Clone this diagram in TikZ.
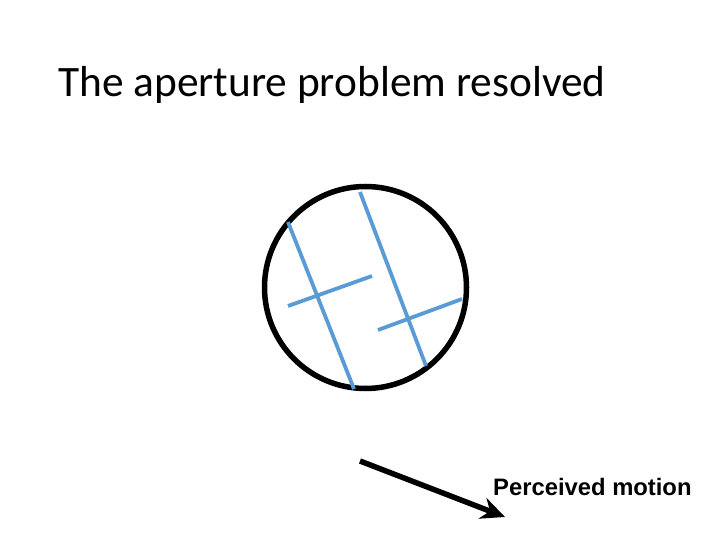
\documentclass[tikz,border=0pt]{standalone}
\usepackage{fontspec}
\setmainfont{Carlito}
\newfontfamily\arialfont{Liberation Sans}
\usetikzlibrary{arrows.meta}
\definecolor{barblue}{HTML}{5B9BD5}
\tikzset{
  aperture/.style={draw=black, line width=5.5pt},
  bar/.style={draw=barblue, line width=3.8pt},
  motion/.style={draw=black, line width=5.5pt, -{Stealth[length=24pt,width=22pt,inset=8pt]}},
  titletext/.style={anchor=base west, inner sep=0pt, font=\fontsize{43.4}{52}\selectfont},
  labeltext/.style={anchor=base west, inner sep=0pt, font=\arialfont\bfseries\fontsize{23.8}{28}\selectfont}
}
\begin{document}
\begin{tikzpicture}[x=1pt,y=-1pt]
\useasboundingbox (0,0) rectangle (720,540);
\node[titletext] (title) at (58,97) {The aperture problem resolved};
\node[aperture, circle, minimum size=202pt, inner sep=0pt] (ap) at (365.5,287.5) {};
\coordinate (a1) at (288,222); \coordinate (a2) at (354,389);
\coordinate (b1) at (360,192); \coordinate (b2) at (426,366);
\coordinate (c1) at (288,306); \coordinate (c2) at (372,276);
\coordinate (d1) at (378,330); \coordinate (d2) at (462,299);
\draw[bar] (a1) -- (a2);
\draw[bar] (b1) -- (b2);
\draw[bar] (c1) -- (c2);
\draw[bar] (d1) -- (d2);
\coordinate (m1) at (360,461);
\coordinate (m2) at (505,517);
\draw[motion] (m1) -- (m2);
\node[labeltext] (lbl) at (493,495) {Perceived motion};
\end{tikzpicture}
\end{document}
